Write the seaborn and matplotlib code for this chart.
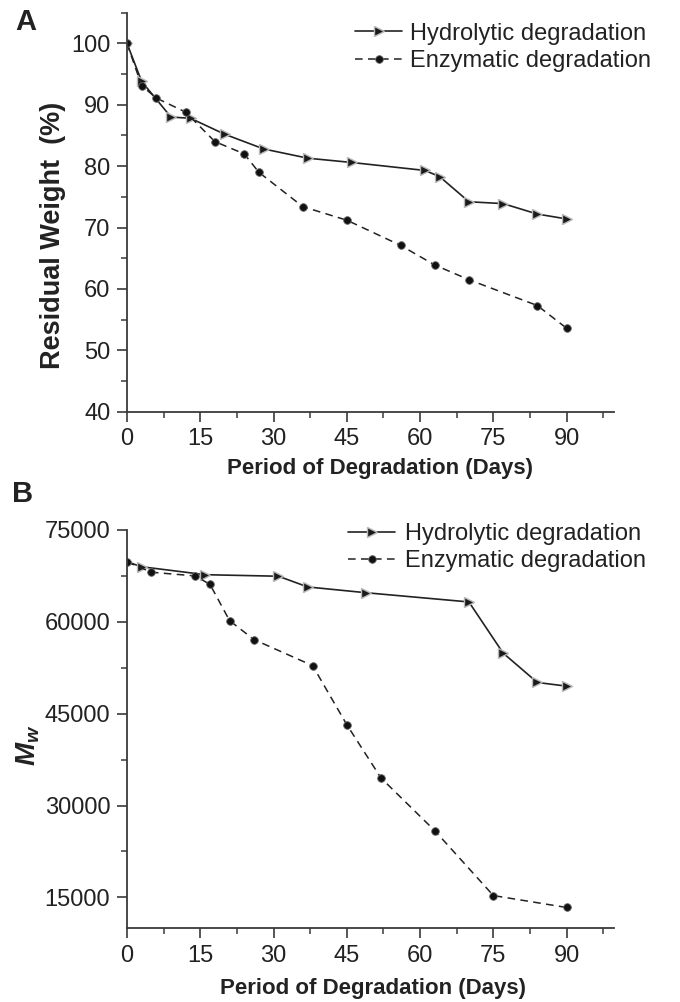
import matplotlib
matplotlib.use("Agg")
import matplotlib.pyplot as plt
import seaborn as sns
import pandas as pd
from matplotlib.ticker import MultipleLocator

# ---- data ----
hyd_days_A = [0, 3, 9, 13, 20, 28, 37, 46, 61, 64, 70, 77, 84, 90]
hyd_wt_A = [100, 93.8, 88.0, 87.8, 85.2, 82.8, 81.3, 80.6, 79.3, 78.3, 74.2, 73.9, 72.2, 71.4]
enz_days_A = [0, 3, 6, 12, 18, 24, 27, 36, 45, 56, 63, 70, 84, 90]
enz_wt_A = [100, 93.1, 91.1, 88.8, 84.0, 82.0, 79.0, 73.4, 71.2, 67.1, 63.9, 61.5, 57.3, 53.6]

hyd_days_B = [0, 3, 16, 31, 37, 49, 70, 77, 84, 90]
hyd_mw_B = [69800, 69000, 67700, 67450, 65700, 64750, 63250, 54900, 50100, 49500]
enz_days_B = [0, 5, 14, 17, 21, 26, 38, 45, 52, 63, 75, 90]
enz_mw_B = [69800, 68100, 67500, 66100, 60200, 57100, 52850, 43200, 34500, 25900, 15300, 13350]

series_labels = ["Hydrolytic degradation", "Enzymatic degradation"]
x_label = "Period of Degradation (Days)"
y_label_A = "Residual Weight  (%)"
y_label_B = r"$M_w$"
panel_letters = ["A", "B"]

# ---- style ----
sns.set_theme(style="ticks")
plt.rcParams["font.family"] = ["Liberation Sans", "DejaVu Sans"]
plt.rcParams["mathtext.fontset"] = "custom"
plt.rcParams["mathtext.it"] = "Liberation Sans:italic:bold"
plt.rcParams["mathtext.rm"] = "Liberation Sans:bold"
INK = "#222222"
AX = "#3a3a3a"

W, H = 680, 1002
fig = plt.figure(figsize=(W / 100, H / 100), dpi=100)
fig.patch.set_facecolor("white")

axA = fig.add_axes([127 / W, 1 - 411.7 / H, 487 / W, 399 / H])
axB = fig.add_axes([127 / W, 1 - 928 / H, 487 / W, 398 / H])

hyd_kw = dict(color=INK, linestyle="-", linewidth=1.2, marker=">", markersize=7,
              markerfacecolor="#1a1a1a", markeredgecolor="#b8b8b8", markeredgewidth=1.0)
enz_kw = dict(color=INK, linestyle=(0, (5, 3.5)), linewidth=1.1, marker="o", markersize=5.5,
              markerfacecolor="#111111", markeredgecolor="#666666", markeredgewidth=0.6)


def draw(ax, hx, hy, ex, ey):
    dh = pd.DataFrame({"day": hx, "val": hy})
    de = pd.DataFrame({"day": ex, "val": ey})
    sns.lineplot(data=dh, x="day", y="val", ax=ax, estimator=None, sort=False,
                 label=series_labels[0], **hyd_kw)
    sns.lineplot(data=de, x="day", y="val", ax=ax, estimator=None, sort=False,
                 label=series_labels[1], **enz_kw)


draw(axA, hyd_days_A, hyd_wt_A, enz_days_A, enz_wt_A)
draw(axB, hyd_days_B, hyd_mw_B, enz_days_B, enz_mw_B)

axA.set_xlim(0, 99.7)
axA.set_ylim(40, 105)
axA.yaxis.set_major_locator(MultipleLocator(10))
axA.yaxis.set_minor_locator(MultipleLocator(5))

axB.set_xlim(0, 99.7)
axB.set_ylim(10000, 75000)
axB.yaxis.set_major_locator(MultipleLocator(15000))
axB.yaxis.set_minor_locator(MultipleLocator(7500))

for ax in (axA, axB):
    ax.xaxis.set_major_locator(MultipleLocator(15))
    ax.xaxis.set_minor_locator(MultipleLocator(7.5))
    for s in ("top", "right"):
        ax.spines[s].set_visible(False)
    for s in ("left", "bottom"):
        ax.spines[s].set_color(AX)
        ax.spines[s].set_linewidth(1.3)
    ax.tick_params(which="major", direction="out", length=7, width=1.2, color=AX,
                   labelsize=17, labelcolor=INK, pad=5)
    ax.tick_params(which="minor", direction="out", length=4, width=1.1, color=AX)
    ax.set_xlabel(x_label, fontsize=16, fontweight="bold", color=INK)

axA.set_ylabel(y_label_A, fontsize=19.5, fontweight="bold", color=INK)
axB.set_ylabel(y_label_B, fontsize=20, color=INK)

axA.xaxis.set_label_coords(0.52, -0.115)
axB.xaxis.set_label_coords(0.505, -0.125)
axA.yaxis.set_label_coords(-0.126, 0.443)
axB.yaxis.set_label_coords(-0.174, 0.46)

legA = axA.legend(loc="upper left", bbox_to_anchor=(0.468, 0.975), frameon=False,
                  fontsize=17, handlelength=2.0, handletextpad=0.35, labelspacing=0.22,
                  borderpad=0, borderaxespad=0)
legB = axB.legend(loc="upper left", bbox_to_anchor=(0.454, 1.0175), frameon=False,
                  fontsize=17, handlelength=2.0, handletextpad=0.4, labelspacing=0.22,
                  borderpad=0, borderaxespad=0)
for leg in (legA, legB):
    for t in leg.get_texts():
        t.set_color(INK)

fig.text(26 / W, 1 - 22 / H, panel_letters[0], fontsize=21, fontweight="bold",
         color=INK, ha="center", va="center")
fig.text(23 / W, 1 - 494 / H, panel_letters[1], fontsize=21, fontweight="bold",
         color=INK, ha="center", va="center")

fig.savefig("out.png", dpi=100, facecolor="white")
